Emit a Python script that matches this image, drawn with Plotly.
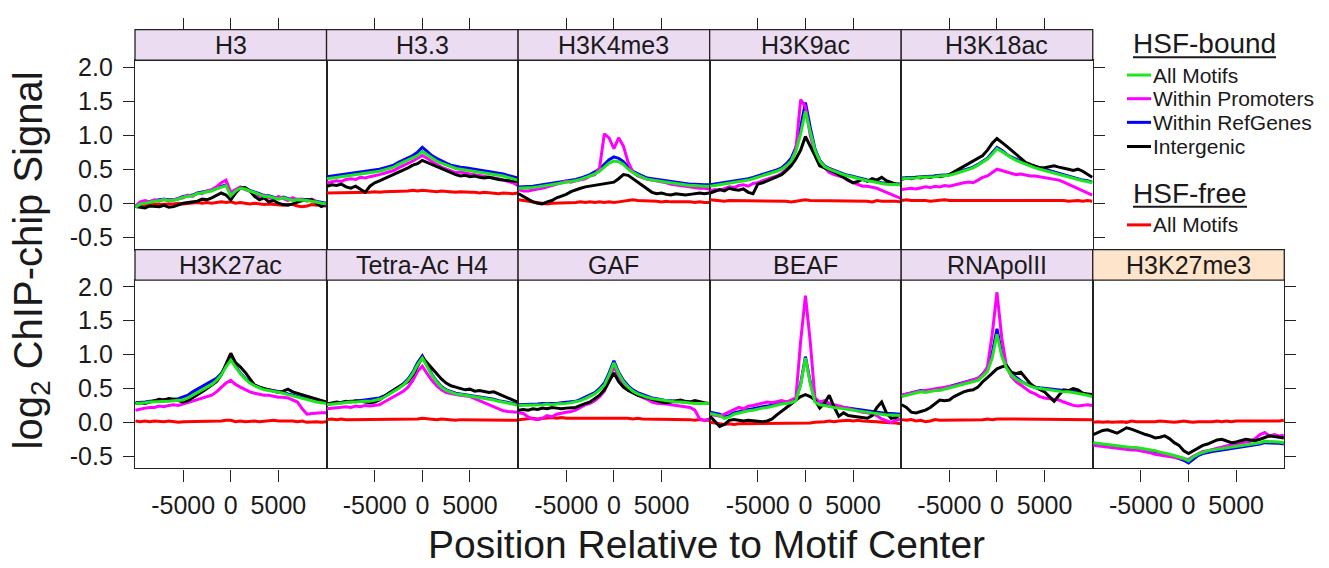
import plotly.graph_objects as go

W, H = 1329, 568
FONT = "Liberation Sans, Arial, sans-serif"
TXT = "#1a1a1a"

# Positions relative to motif center (bp)
X = list(range(-10000, 10001, 500))
XTICKS = [-5000, 0, 5000]
XTICK_LABELS = ["-5000", "0", "5000"]
YTICKS = [-0.5, 0.0, 0.5, 1.0, 1.5, 2.0]
YTICK_LABELS = ["-0.5", "0.0", "0.5", "1.0", "1.5", "2.0"]

PANEL_NAMES = ["H3", "H3.3", "H3K4me3", "H3K9ac", "H3K18ac",
               "H3K27ac", "Tetra-Ac H4", "GAF", "BEAF", "RNApolII", "H3K27me3"]
SERIES_NAMES = ["All Motifs", "Within Promoters", "Within RefGenes", "Intergenic", "All Motifs (HSF-free)"]

# ---------------- H3 ----------------
h3_all = [-0.06,-0.01,0.00,0.01,0.03,0.04,0.05,0.04,0.04,0.06,
          0.09,0.10,0.11,0.14,0.15,0.16,0.18,0.21,0.24,0.26,
          0.11,
          0.18,0.22,0.21,0.18,0.16,0.13,0.10,0.10,0.08,0.06,
          0.08,0.06,0.04,0.05,0.05,0.04,0.03,0.02,0.01,-0.01]
h3_ref = [-0.05,0.00,0.01,0.03,0.04,0.05,0.06,0.05,0.05,0.07,
          0.10,0.11,0.12,0.15,0.16,0.17,0.19,0.22,0.25,0.27,
          0.13,
          0.19,0.23,0.22,0.19,0.17,0.14,0.11,0.11,0.09,0.07,
          0.09,0.07,0.05,0.06,0.06,0.05,0.04,0.03,0.02,0.00]
h3_prom = [-0.04,0.02,0.04,0.02,0.05,0.03,0.06,0.03,0.05,0.07,
           0.08,0.12,0.10,0.15,0.14,0.18,0.20,0.24,0.30,0.34,
           0.16,
           0.20,0.24,0.20,0.18,0.14,0.10,0.12,0.08,0.05,0.10,
           0.07,0.04,0.08,0.05,0.06,0.03,0.06,0.02,-0.02,-0.05]
h3_inter = [-0.05,-0.06,-0.07,-0.04,-0.04,-0.05,-0.03,-0.06,-0.05,-0.02,
            0.00,0.01,0.02,0.03,0.06,0.05,0.08,0.12,0.15,0.12,
            0.05,
            0.15,0.22,0.23,0.18,0.10,0.05,0.08,0.02,0.04,0.00,
            -0.02,-0.03,-0.01,0.02,0.04,0.05,0.05,0.00,-0.05,-0.02]
h3_free = [-0.04,-0.03,-0.02,-0.02,-0.01,-0.02,-0.01,-0.01,-0.01,0.00,
           -0.01,0.00,0.00,0.01,0.00,0.01,0.00,0.01,0.02,0.01,
           0.02,
           0.00,0.01,0.00,-0.01,0.00,-0.01,-0.02,-0.01,-0.02,-0.02,
           -0.03,-0.02,-0.02,-0.04,-0.05,-0.04,-0.02,-0.03,-0.02,-0.01]

# ---------------- H3.3 ----------------
h33_all = [0.36,0.37,0.38,0.38,0.40,0.41,0.41,0.42,0.43,0.44,
           0.45,0.47,0.49,0.51,0.53,0.57,0.60,0.63,0.66,0.70,
           0.76,
           0.71,0.66,0.62,0.59,0.56,0.53,0.51,0.50,0.49,0.48,
           0.47,0.46,0.44,0.43,0.42,0.41,0.40,0.38,0.36,0.34]
h33_ref = [0.39,0.40,0.41,0.41,0.43,0.44,0.44,0.45,0.46,0.47,
           0.48,0.50,0.52,0.54,0.56,0.60,0.63,0.67,0.70,0.75,
           0.82,
           0.76,0.70,0.66,0.62,0.59,0.56,0.54,0.53,0.52,0.51,
           0.50,0.49,0.47,0.46,0.45,0.44,0.43,0.41,0.39,0.37]
h33_prom = [0.30,0.32,0.33,0.32,0.35,0.36,0.35,0.38,0.37,0.39,
            0.40,0.42,0.44,0.46,0.48,0.52,0.55,0.58,0.62,0.66,
            0.70,
            0.66,0.61,0.57,0.53,0.50,0.48,0.45,0.46,0.44,0.43,
            0.42,0.41,0.40,0.38,0.37,0.36,0.34,0.32,0.30,0.26]
h33_inter = [0.25,0.27,0.26,0.28,0.24,0.22,0.25,0.20,0.16,0.25,
             0.30,0.33,0.36,0.40,0.42,0.45,0.48,0.52,0.56,0.58,
             0.63,
             0.60,0.56,0.53,0.50,0.47,0.44,0.42,0.40,0.41,0.39,
             0.40,0.38,0.37,0.38,0.36,0.35,0.34,0.33,0.33,0.32]
h33_free = [0.15,0.15,0.16,0.15,0.15,0.16,0.16,0.15,0.16,0.16,
            0.17,0.16,0.17,0.17,0.18,0.17,0.18,0.18,0.19,0.18,
            0.19,
            0.18,0.18,0.17,0.18,0.17,0.17,0.16,0.17,0.16,0.16,
            0.16,0.15,0.16,0.15,0.15,0.14,0.15,0.14,0.14,0.15]

# ---------------- H3K4me3 ----------------
k4me3_all = [0.22,0.22,0.23,0.23,0.24,0.25,0.26,0.27,0.28,0.29,
             0.30,0.31,0.33,0.35,0.37,0.40,0.43,0.47,0.53,0.59,
             0.62,
             0.61,0.57,0.50,0.45,0.41,0.38,0.35,0.34,0.33,0.32,
             0.30,0.29,0.28,0.28,0.27,0.26,0.26,0.25,0.25,0.25]
k4me3_ref = [0.24,0.24,0.25,0.25,0.26,0.27,0.28,0.29,0.30,0.31,
             0.32,0.33,0.35,0.37,0.39,0.42,0.46,0.50,0.57,0.64,
             0.68,
             0.66,0.61,0.53,0.47,0.43,0.40,0.37,0.36,0.35,0.34,
             0.32,0.31,0.30,0.30,0.29,0.28,0.28,0.27,0.27,0.27]
k4me3_prom = [0.20,0.18,0.18,0.20,0.21,0.22,0.24,0.25,0.27,0.30,
              0.33,0.31,0.33,0.34,0.36,0.40,0.42,0.52,1.02,0.96,
              0.80,
              0.96,0.84,0.60,0.46,0.40,0.37,0.35,0.34,0.33,0.32,
              0.30,0.28,0.27,0.26,0.24,0.24,0.23,0.22,0.22,0.21]
k4me3_inter = [0.14,0.10,0.06,0.02,0.00,-0.01,0.02,0.04,0.08,0.10,
               0.13,0.17,0.20,0.22,0.24,0.25,0.26,0.27,0.28,0.30,
               0.31,
               0.36,0.42,0.41,0.36,0.30,0.25,0.20,0.16,0.14,0.15,
               0.13,0.12,0.14,0.13,0.12,0.13,0.14,0.15,0.14,0.15]
k4me3_free = [0.05,0.04,0.03,0.01,0.00,0.00,-0.01,0.00,0.00,0.01,
              0.01,0.00,0.01,0.02,0.01,0.02,0.01,0.02,0.01,0.02,
              0.01,
              0.02,0.03,0.04,0.05,0.04,0.04,0.03,0.03,0.03,0.02,
              0.03,0.02,0.02,0.03,0.02,0.02,0.01,0.02,0.01,0.01]

# ---------------- H3K9ac ----------------
k9ac_all = [0.25,0.26,0.28,0.29,0.30,0.31,0.31,0.33,0.34,0.36,
            0.38,0.40,0.42,0.44,0.47,0.50,0.55,0.62,0.76,1.02,
            1.35,
            1.05,0.78,0.62,0.54,0.50,0.47,0.44,0.42,0.40,0.38,
            0.36,0.35,0.33,0.32,0.30,0.29,0.28,0.28,0.27,0.27]
k9ac_ref = [0.27,0.28,0.30,0.31,0.32,0.33,0.33,0.35,0.36,0.38,
            0.40,0.42,0.44,0.46,0.49,0.52,0.58,0.66,0.82,1.12,
            1.48,
            1.12,0.80,0.63,0.55,0.51,0.48,0.45,0.43,0.41,0.39,
            0.37,0.36,0.34,0.33,0.31,0.30,0.29,0.29,0.28,0.28]
k9ac_prom = [0.18,0.20,0.19,0.22,0.24,0.23,0.26,0.27,0.25,0.29,
             0.30,0.33,0.35,0.37,0.40,0.44,0.50,0.60,0.80,1.52,
             1.42,
             1.00,0.75,0.60,0.52,0.45,0.42,0.40,0.38,0.33,0.30,
             0.27,0.25,0.25,0.24,0.22,0.19,0.16,0.13,0.10,0.07]
k9ac_inter = [0.15,0.18,0.20,0.18,0.22,0.20,0.19,0.21,0.16,0.14,
              0.28,0.30,0.33,0.35,0.38,0.42,0.48,0.55,0.65,0.78,
              0.98,
              0.85,0.70,0.55,0.52,0.50,0.46,0.42,0.38,0.35,0.30,
              0.32,0.35,0.32,0.36,0.34,0.38,0.33,0.30,0.28,0.28]
k9ac_free = [0.05,0.04,0.04,0.03,0.04,0.04,0.03,0.04,0.04,0.03,
             0.04,0.04,0.03,0.04,0.04,0.03,0.03,0.02,0.03,0.04,
             0.05,
             0.04,0.04,0.03,0.04,0.04,0.03,0.04,0.04,0.03,0.04,
             0.04,0.03,0.03,0.02,0.04,0.03,0.03,0.04,0.03,0.02]

# ---------------- H3K18ac ----------------
k18ac_all = [0.36,0.36,0.37,0.37,0.38,0.38,0.39,0.39,0.40,0.40,
             0.41,0.43,0.45,0.47,0.49,0.52,0.56,0.60,0.65,0.72,
             0.80,
             0.76,0.71,0.67,0.63,0.60,0.57,0.55,0.52,0.50,0.48,
             0.46,0.44,0.42,0.40,0.39,0.37,0.35,0.33,0.32,0.30]
k18ac_ref = [0.37,0.37,0.38,0.38,0.39,0.39,0.40,0.40,0.41,0.41,
             0.42,0.44,0.46,0.48,0.50,0.53,0.57,0.61,0.66,0.74,
             0.82,
             0.78,0.72,0.68,0.64,0.61,0.58,0.56,0.53,0.51,0.49,
             0.47,0.45,0.43,0.41,0.40,0.38,0.36,0.34,0.33,0.31]
k18ac_prom = [0.20,0.21,0.22,0.21,0.23,0.24,0.23,0.25,0.24,0.26,
              0.25,0.27,0.28,0.30,0.31,0.30,0.34,0.38,0.40,0.45,
              0.50,
              0.48,0.46,0.44,0.42,0.43,0.41,0.40,0.40,0.39,0.38,
              0.37,0.36,0.34,0.31,0.28,0.25,0.22,0.18,0.15,0.12]
k18ac_inter = [0.35,0.37,0.36,0.38,0.37,0.39,0.38,0.40,0.39,0.41,
               0.42,0.46,0.50,0.55,0.58,0.62,0.66,0.70,0.78,0.88,
               0.95,
               0.90,0.84,0.78,0.72,0.66,0.60,0.57,0.55,0.52,0.52,
               0.54,0.55,0.53,0.52,0.50,0.48,0.50,0.47,0.42,0.38]
k18ac_free = [0.04,0.05,0.04,0.04,0.05,0.04,0.03,0.04,0.04,0.05,
              0.04,0.04,0.05,0.04,0.04,0.05,0.04,0.04,0.05,0.05,
              0.05,
              0.04,0.05,0.04,0.04,0.04,0.05,0.04,0.04,0.05,0.04,
              0.04,0.05,0.04,0.04,0.03,0.04,0.04,0.03,0.04,0.03]

# ---------------- H3K27ac ----------------
k27ac_all = [0.28,0.28,0.29,0.30,0.30,0.31,0.31,0.31,0.32,0.32,
             0.33,0.36,0.40,0.44,0.48,0.52,0.56,0.62,0.70,0.82,
             0.92,
             0.82,0.72,0.64,0.58,0.54,0.51,0.48,0.47,0.46,0.45,
             0.43,0.41,0.39,0.37,0.35,0.33,0.31,0.30,0.29,0.28]
k27ac_ref = [0.29,0.29,0.30,0.31,0.31,0.32,0.33,0.33,0.34,0.35,
             0.37,0.40,0.45,0.49,0.52,0.56,0.60,0.65,0.72,0.84,
             0.94,
             0.83,0.73,0.65,0.59,0.55,0.52,0.49,0.48,0.47,0.46,
             0.44,0.42,0.40,0.38,0.36,0.34,0.32,0.31,0.30,0.29]
k27ac_prom = [0.18,0.20,0.21,0.22,0.22,0.24,0.23,0.25,0.26,0.25,
              0.27,0.29,0.31,0.33,0.35,0.37,0.40,0.45,0.52,0.58,
              0.62,
              0.56,0.52,0.48,0.45,0.43,0.41,0.40,0.40,0.38,0.37,
              0.37,0.36,0.33,0.30,0.20,0.12,0.13,0.14,0.14,0.14]
k27ac_inter = [0.28,0.29,0.28,0.30,0.31,0.34,0.33,0.35,0.34,0.32,
               0.30,0.32,0.36,0.40,0.45,0.50,0.55,0.60,0.70,0.85,
               1.02,
               0.88,0.82,0.74,0.65,0.55,0.52,0.50,0.47,0.45,0.44,
               0.46,0.49,0.45,0.43,0.40,0.38,0.36,0.34,0.32,0.30]
k27ac_free = [0.02,0.01,0.02,0.01,0.02,0.01,0.01,0.02,0.01,0.00,
              0.01,0.01,0.02,0.02,0.01,0.02,0.01,0.01,0.02,0.03,
              0.03,
              0.01,0.02,0.01,0.02,0.02,0.01,0.02,0.02,0.03,0.02,
              0.02,0.03,0.02,0.01,0.02,0.00,0.01,0.01,0.00,0.01]

# ---------------- Tetra-Ac H4 ----------------
h4ac_all = [0.26,0.27,0.28,0.28,0.29,0.30,0.30,0.31,0.31,0.31,
            0.32,0.34,0.37,0.41,0.45,0.50,0.55,0.62,0.72,0.85,
            0.95,
            0.82,0.70,0.60,0.52,0.47,0.44,0.42,0.41,0.40,0.39,
            0.38,0.37,0.36,0.34,0.33,0.31,0.30,0.28,0.27,0.25]
h4ac_ref = [0.27,0.28,0.29,0.29,0.30,0.31,0.31,0.32,0.32,0.33,
            0.34,0.36,0.39,0.43,0.47,0.52,0.57,0.64,0.74,0.88,
            0.98,
            0.84,0.71,0.61,0.53,0.48,0.45,0.43,0.42,0.41,0.40,
            0.39,0.38,0.37,0.35,0.34,0.32,0.31,0.29,0.28,0.26]
h4ac_prom = [0.20,0.21,0.21,0.22,0.23,0.22,0.24,0.23,0.25,0.24,
             0.25,0.26,0.30,0.34,0.38,0.42,0.46,0.52,0.62,0.75,
             0.83,
             0.72,0.62,0.54,0.48,0.44,0.42,0.41,0.40,0.39,0.38,
             0.35,0.32,0.28,0.25,0.22,0.19,0.17,0.16,0.15,0.15]
h4ac_inter = [0.27,0.28,0.30,0.29,0.31,0.30,0.32,0.31,0.30,0.29,
              0.30,0.33,0.38,0.43,0.48,0.52,0.56,0.60,0.70,0.82,
              0.96,
              0.88,0.80,0.72,0.64,0.58,0.54,0.52,0.50,0.48,0.49,
              0.46,0.47,0.45,0.44,0.45,0.42,0.38,0.35,0.33,0.30]
h4ac_free = [0.04,0.05,0.04,0.05,0.04,0.04,0.05,0.04,0.04,0.05,
             0.04,0.04,0.05,0.04,0.04,0.05,0.04,0.04,0.05,0.05,
             0.06,
             0.05,0.04,0.04,0.05,0.04,0.04,0.03,0.04,0.04,0.03,
             0.04,0.03,0.04,0.03,0.03,0.04,0.03,0.03,0.03,0.03]

# ---------------- GAF ----------------
gaf_all = [0.25,0.25,0.26,0.25,0.26,0.26,0.27,0.26,0.27,0.27,
           0.28,0.29,0.30,0.32,0.35,0.38,0.42,0.48,0.55,0.70,
           0.88,
           0.72,0.60,0.52,0.46,0.42,0.39,0.37,0.35,0.34,0.32,
           0.31,0.31,0.30,0.30,0.29,0.29,0.28,0.28,0.28,0.28]
gaf_ref = [0.26,0.26,0.27,0.26,0.27,0.28,0.28,0.27,0.28,0.29,
           0.30,0.30,0.31,0.34,0.37,0.40,0.44,0.50,0.58,0.73,
           0.91,
           0.74,0.62,0.54,0.48,0.44,0.41,0.38,0.36,0.35,0.33,
           0.32,0.32,0.31,0.31,0.30,0.30,0.29,0.29,0.28,0.28]
gaf_prom = [0.14,0.13,0.08,0.05,0.04,0.06,0.10,0.08,0.12,0.14,
            0.15,0.16,0.18,0.22,0.26,0.28,0.32,0.38,0.46,0.62,
            0.83,
            0.68,0.56,0.48,0.44,0.40,0.37,0.34,0.30,0.28,0.28,
            0.27,0.26,0.25,0.25,0.24,0.22,0.18,0.05,0.03,0.05]
gaf_inter = [0.18,0.19,0.18,0.20,0.19,0.21,0.20,0.22,0.21,0.20,
             0.21,0.22,0.22,0.25,0.28,0.30,0.35,0.40,0.48,0.60,
             0.73,
             0.60,0.52,0.47,0.43,0.40,0.38,0.36,0.33,0.31,0.30,
             0.29,0.30,0.31,0.33,0.31,0.30,0.32,0.30,0.29,0.28]
gaf_free = [0.04,0.05,0.05,0.06,0.05,0.06,0.06,0.07,0.06,0.07,
            0.06,0.06,0.06,0.07,0.07,0.06,0.07,0.07,0.06,0.06,
            0.07,
            0.06,0.06,0.06,0.05,0.06,0.05,0.05,0.05,0.04,0.05,
            0.04,0.04,0.05,0.05,0.04,0.04,0.03,0.04,0.03,0.03]

# ---------------- BEAF ----------------
beaf_all = [0.13,0.12,0.10,0.06,0.08,0.12,0.14,0.16,0.17,0.18,
            0.20,0.21,0.22,0.24,0.26,0.27,0.28,0.29,0.32,0.55,
            0.95,
            0.58,0.30,0.26,0.25,0.23,0.22,0.21,0.20,0.19,0.18,
            0.17,0.15,0.14,0.14,0.13,0.12,0.11,0.11,0.10,0.10]
beaf_ref = [0.15,0.14,0.12,0.08,0.10,0.14,0.16,0.18,0.19,0.20,
            0.22,0.23,0.24,0.26,0.28,0.29,0.30,0.31,0.34,0.57,
            0.97,
            0.60,0.32,0.28,0.27,0.25,0.24,0.23,0.22,0.21,0.20,
            0.19,0.17,0.16,0.16,0.15,0.14,0.13,0.13,0.12,0.12]
beaf_prom = [0.12,0.10,0.09,0.12,0.15,0.18,0.22,0.20,0.24,0.25,
             0.27,0.28,0.30,0.29,0.31,0.32,0.30,0.33,0.36,1.20,
             1.87,
             1.20,0.36,0.30,0.32,0.28,0.26,0.24,0.22,0.20,0.18,
             0.16,0.15,0.14,0.12,0.10,0.05,0.02,0.00,0.03,0.05]
beaf_inter = [0.09,0.02,-0.06,-0.03,0.03,0.04,0.03,0.02,0.03,0.02,
              0.01,0.01,0.02,0.05,0.11,0.16,0.22,0.27,0.33,0.38,
              0.41,
              0.38,0.33,0.21,0.28,0.40,0.23,0.09,0.14,0.10,0.09,
              0.08,0.07,0.06,0.10,0.22,0.30,0.14,0.06,0.07,0.12]
beaf_free = [0.00,-0.01,-0.02,-0.03,-0.02,-0.03,-0.02,-0.02,-0.01,-0.02,
             -0.02,-0.01,-0.02,-0.01,-0.01,-0.02,-0.01,-0.02,-0.02,-0.01,
             -0.02,
             -0.01,0.00,0.00,0.01,0.02,0.01,0.02,0.03,0.03,0.02,
             0.03,0.02,0.02,0.01,0.01,0.00,0.00,-0.01,-0.01,-0.02]

# ---------------- RNApolII ----------------
pol2_all = [0.38,0.40,0.41,0.43,0.45,0.44,0.46,0.47,0.47,0.49,
            0.50,0.52,0.54,0.56,0.58,0.60,0.62,0.68,0.75,0.95,
            1.30,
            0.98,0.80,0.70,0.64,0.60,0.56,0.53,0.51,0.50,0.48,
            0.47,0.47,0.46,0.45,0.45,0.44,0.43,0.41,0.40,0.38]
pol2_ref = [0.40,0.42,0.43,0.45,0.47,0.46,0.48,0.49,0.49,0.51,
            0.52,0.54,0.56,0.58,0.60,0.62,0.65,0.71,0.80,1.02,
            1.38,
            1.02,0.82,0.72,0.66,0.61,0.57,0.54,0.52,0.51,0.50,
            0.49,0.49,0.48,0.47,0.47,0.46,0.45,0.43,0.41,0.39]
pol2_prom = [0.40,0.42,0.43,0.45,0.46,0.47,0.48,0.49,0.50,0.51,
             0.52,0.54,0.56,0.58,0.60,0.62,0.65,0.70,0.82,1.30,
             1.92,
             1.25,0.82,0.68,0.60,0.55,0.50,0.45,0.42,0.38,0.36,
             0.35,0.34,0.33,0.30,0.27,0.25,0.24,0.25,0.26,0.25]
pol2_inter = [0.26,0.22,0.15,0.14,0.16,0.18,0.22,0.28,0.33,0.32,
              0.33,0.38,0.42,0.45,0.47,0.48,0.52,0.60,0.66,0.72,
              0.79,
              0.82,0.84,0.74,0.72,0.74,0.66,0.57,0.52,0.48,0.45,
              0.38,0.31,0.40,0.48,0.47,0.50,0.48,0.43,0.42,0.41]
pol2_free = [0.04,0.03,0.04,0.02,0.03,0.01,0.02,0.04,0.03,0.03,
             0.04,0.03,0.04,0.04,0.03,0.04,0.03,0.04,0.05,0.04,
             0.05,
             0.05,0.04,0.05,0.04,0.05,0.05,0.04,0.05,0.04,0.05,
             0.05,0.04,0.05,0.05,0.04,0.05,0.04,0.04,0.05,0.04]

# ---------------- H3K27me3 ----------------
k27me3_all = [-0.30,-0.31,-0.32,-0.33,-0.34,-0.35,-0.35,-0.36,-0.37,-0.37,
              -0.38,-0.39,-0.40,-0.42,-0.44,-0.45,-0.47,-0.49,-0.51,-0.53,
              -0.57,
              -0.51,-0.47,-0.44,-0.42,-0.41,-0.40,-0.39,-0.37,-0.36,-0.35,
              -0.34,-0.33,-0.32,-0.31,-0.30,-0.28,-0.28,-0.29,-0.29,-0.30]
k27me3_ref = [-0.32,-0.33,-0.34,-0.35,-0.36,-0.37,-0.37,-0.38,-0.39,-0.39,
              -0.40,-0.41,-0.42,-0.44,-0.46,-0.47,-0.49,-0.51,-0.53,-0.56,
              -0.60,
              -0.54,-0.49,-0.46,-0.44,-0.43,-0.42,-0.41,-0.39,-0.38,-0.37,
              -0.36,-0.35,-0.34,-0.33,-0.32,-0.30,-0.30,-0.31,-0.31,-0.32]
k27me3_prom = [-0.34,-0.35,-0.35,-0.36,-0.37,-0.38,-0.39,-0.40,-0.41,-0.41,
               -0.42,-0.43,-0.45,-0.47,-0.48,-0.49,-0.50,-0.52,-0.53,-0.54,
               -0.55,
               -0.50,-0.46,-0.43,-0.42,-0.40,-0.38,-0.36,-0.34,-0.33,-0.32,
               -0.30,-0.29,-0.28,-0.24,-0.18,-0.15,-0.20,-0.18,-0.20,-0.19]
k27me3_inter = [-0.18,-0.15,-0.12,-0.11,-0.14,-0.16,-0.12,-0.08,-0.10,-0.13,
                -0.16,-0.18,-0.20,-0.23,-0.22,-0.20,-0.24,-0.30,-0.34,-0.42,
                -0.46,
                -0.42,-0.38,-0.34,-0.32,-0.29,-0.26,-0.25,-0.28,-0.30,-0.29,
                -0.27,-0.25,-0.26,-0.27,-0.25,-0.22,-0.20,-0.21,-0.22,-0.23]
k27me3_free = [0.00,0.01,0.00,0.01,0.00,0.01,0.01,0.00,0.02,0.01,
               0.01,0.00,0.01,0.01,0.02,0.01,0.01,0.00,0.01,0.02,
               0.01,
               0.00,0.01,0.01,0.00,0.01,0.02,0.01,0.02,0.01,0.02,
               0.02,0.01,0.02,0.01,0.02,0.02,0.01,0.02,0.02,0.03]

# ---------------- assembly ----------------
panel_series = [
    (h3_all, h3_prom, h3_ref, h3_inter, h3_free),
    (h33_all, h33_prom, h33_ref, h33_inter, h33_free),
    (k4me3_all, k4me3_prom, k4me3_ref, k4me3_inter, k4me3_free),
    (k9ac_all, k9ac_prom, k9ac_ref, k9ac_inter, k9ac_free),
    (k18ac_all, k18ac_prom, k18ac_ref, k18ac_inter, k18ac_free),
    (k27ac_all, k27ac_prom, k27ac_ref, k27ac_inter, k27ac_free),
    (h4ac_all, h4ac_prom, h4ac_ref, h4ac_inter, h4ac_free),
    (gaf_all, gaf_prom, gaf_ref, gaf_inter, gaf_free),
    (beaf_all, beaf_prom, beaf_ref, beaf_inter, beaf_free),
    (pol2_all, pol2_prom, pol2_ref, pol2_inter, pol2_free),
    (k27me3_all, k27me3_prom, k27me3_ref, k27me3_inter, k27me3_free),
]

GREEN, MAGENTA, BLUE, BLACK, RED = "#1ee61e", "#ff00ff", "#0000ff", "#000000", "#ff0000"
COLORS = [GREEN, MAGENTA, BLUE, BLACK, RED]
DRAW_ORDER = [4, 2, 1, 3, 0]   # red, blue, magenta, black, green (green on top)

# layout geometry (pixels)
COL_L = 135.0
COL_W = 191.55
ROW_PLOT = [(54.0, 246.0), (277.0, 468.0)]
ROW_STRIP = [(23.0, 54.0), (246.0, 277.0)]
XR = [-10050, 10050]
YR = [-0.68, 2.10]
LINE_COL = "#222222"

def px(xp):
    return xp / W

def py(yp):
    return 1 - yp / H

positions = [(0, c) for c in range(5)] + [(1, c) for c in range(6)]

fig = go.Figure()
layout = dict()
shapes = []
annotations = []

for p, (name, series) in enumerate(zip(PANEL_NAMES, panel_series)):
    row, col = positions[p]
    k = p + 1
    xa = f"x{k}" if k > 1 else "x"
    ya = f"y{k}" if k > 1 else "y"
    for si in DRAW_ORDER:
        fig.add_trace(go.Scatter(
            x=X, y=series[si], mode="lines", xaxis=xa, yaxis=ya,
            line=dict(color=COLORS[si], width=3),
            name=SERIES_NAMES[si], showlegend=False, hoverinfo="skip"))
    x0 = COL_L + COL_W * col
    x1 = x0 + COL_W
    y_top, y_bot = ROW_PLOT[row]
    xkey = "xaxis" if k == 1 else f"xaxis{k}"
    ykey = "yaxis" if k == 1 else f"yaxis{k}"
    bottom_row = (row == 1)
    layout[xkey] = dict(
        domain=[px(x0), px(x1)], anchor=ya, range=XR,
        showgrid=False, zeroline=False, showline=True, mirror=True,
        linecolor=LINE_COL, linewidth=1.3,
        tickmode="array", tickvals=XTICKS, ticktext=XTICK_LABELS,
        ticks="outside" if bottom_row else "", ticklen=12, tickwidth=1.3,
        tickcolor=LINE_COL, showticklabels=bottom_row,
        tickfont=dict(family=FONT, size=25, color=TXT),
        ticklabelstandoff=2)
    right_ticks = (row == 0 and col == 4) or (row == 1 and col == 5)
    left_ticks = (col == 0)
    layout[ykey] = dict(
        domain=[py(y_bot), py(y_top)], anchor=xa, range=YR,
        showgrid=False, zeroline=False, showline=True, mirror=True,
        linecolor=LINE_COL, linewidth=1.3,
        side="right" if right_ticks else "left",
        tickmode="array", tickvals=YTICKS, ticktext=YTICK_LABELS,
        ticks="outside" if (left_ticks or right_ticks) else "",
        ticklen=11, tickwidth=1.3, tickcolor=LINE_COL,
        showticklabels=left_ticks,
        tickfont=dict(family=FONT, size=25, color=TXT),
        ticklabelstandoff=5)
    # strip
    s_top, s_bot = ROW_STRIP[row]
    fill = "#fde4ca" if name == "H3K27me3" else "#ecdcf2"
    shapes.append(dict(type="rect", xref="paper", yref="paper",
                       x0=px(x0), x1=px(x1), y0=py(s_bot), y1=py(s_top),
                       fillcolor=fill, line=dict(color=LINE_COL, width=1.3),
                       layer="above"))
    annotations.append(dict(text=name, xref="paper", yref="paper",
                            x=px((x0 + x1) / 2), y=py((s_top + s_bot) / 2),
                            xanchor="center", yanchor="middle", showarrow=False,
                            font=dict(family=FONT, size=25, color=TXT)))

# top tick marks above the strips of the first row (free overlay axes)
for c in range(5):
    k = 12 + c
    base = "x" if c == 0 else f"x{c + 1}"
    fig.add_trace(go.Scatter(x=[XR[0], XR[1]], y=[None, None], mode="lines",
                             xaxis=f"x{k}", yaxis="y" if c == 0 else f"y{c + 1}",
                             showlegend=False, hoverinfo="skip"))
    layout[f"xaxis{k}"] = dict(
        overlaying=base, anchor="free", position=py(ROW_STRIP[0][0]), side="top",
        range=XR, showgrid=False, zeroline=False, showline=False,
        tickmode="array", tickvals=XTICKS, ticks="outside", ticklen=12,
        tickwidth=1.3, tickcolor=LINE_COL, showticklabels=False)

# axis titles
annotations.append(dict(text="Position Relative to Motif Center", xref="paper", yref="paper",
                        x=px(706), y=0, xanchor="center", yanchor="bottom", borderpad=0,
                        showarrow=False, font=dict(family=FONT, size=39, color=TXT)))
annotations.append(dict(text="log<sub>2</sub> ChIP-chip Signal", xref="paper", yref="paper",
                        x=px(31), y=py(257), xanchor="center", yanchor="middle",
                        textangle=-90, showarrow=False,
                        font=dict(family=FONT, size=40, color=TXT)))

# legend (drawn as key in the empty top-right cell)
def legend_title(text, y_mid, y_line, x_end):
    annotations.append(dict(text=text, xref="paper", yref="paper", x=px(1131), y=py(y_mid),
                            xanchor="left", yanchor="middle", showarrow=False,
                            font=dict(family=FONT, size=28, color=TXT)))
    shapes.append(dict(type="line", xref="paper", yref="paper", x0=px(1133), x1=px(x_end),
                       y0=py(y_line), y1=py(y_line), line=dict(color=TXT, width=2)))

def legend_item(text, color, y_mid):
    shapes.append(dict(type="line", xref="paper", yref="paper", x0=px(1127), x1=px(1151),
                       y0=py(y_mid), y1=py(y_mid), line=dict(color=color, width=3)))
    annotations.append(dict(text=text, xref="paper", yref="paper", x=px(1151), y=py(y_mid),
                            xanchor="left", yanchor="middle", showarrow=False,
                            font=dict(family=FONT, size=21, color=TXT)))

legend_title("HSF-bound", 37, 51, 1276)
legend_item("All Motifs", GREEN, 69)
legend_item("Within Promoters", MAGENTA, 93)
legend_item("Within RefGenes", BLUE, 117)
legend_item("Intergenic", BLACK, 141.5)
legend_title("HSF-free", 189, 202.5, 1247)
legend_item("All Motifs", RED, 221)

fig.update_layout(**layout)
fig.update_layout(width=W, height=H, margin=dict(l=0, r=0, t=0, b=0, pad=0),
                  plot_bgcolor="white", paper_bgcolor="white", showlegend=False,
                  shapes=shapes, annotations=annotations,
                  font=dict(family=FONT, color=TXT))

fig.write_html("out.html", config={"displayModeBar": False},
               post_script="document.body.style.margin='0';document.documentElement.style.overflow='hidden';")
